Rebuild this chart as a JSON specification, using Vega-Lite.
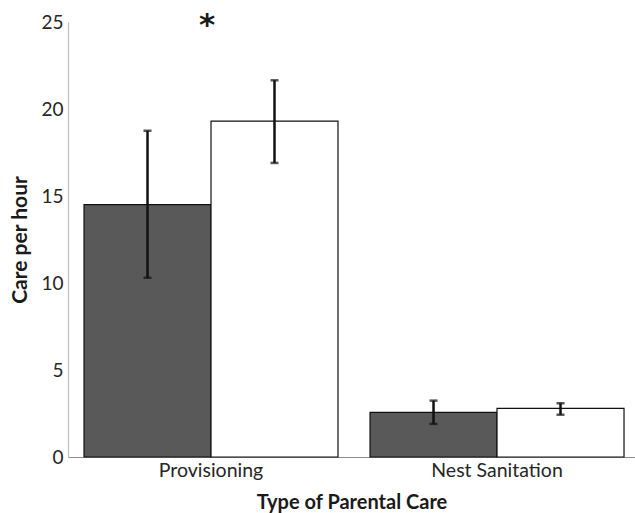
{
  "$schema": "https://vega.github.io/schema/vega-lite/v6.json",
  "width": 567,
  "height": 435,
  "autosize": {"type": "none"},
  "padding": {"left": 68, "top": 22, "right": 0, "bottom": 56},
  "background": "white",
  "config": {
    "view": {"stroke": null},
    "font": "Lato",
    "axis": {"labelFont": "Lato", "titleFont": "Lato", "labelColor": "#262626", "titleColor": "#1a1a1a", "grid": false, "ticks": false}
  },
  "datasets": {
    "bars": [
      {"type": "Provisioning", "group": "Group 1", "mean": 14.5, "lo": 10.3, "hi": 18.75},
      {"type": "Provisioning", "group": "Group 2", "mean": 19.3, "lo": 16.9, "hi": 21.65},
      {"type": "Nest Sanitation", "group": "Group 1", "mean": 2.57, "lo": 1.9, "hi": 3.24},
      {"type": "Nest Sanitation", "group": "Group 2", "mean": 2.8, "lo": 2.43, "hi": 3.09}
    ],
    "notes": [
      {"type": "Provisioning", "label": "*", "pos": 25}
    ]
  },
  "layer": [
    {
      "data": {"name": "bars"},
      "mark": {"type": "bar", "stroke": "#111111", "strokeWidth": 1.2},
      "encoding": {
        "x": {"field": "type", "type": "nominal", "sort": ["Provisioning", "Nest Sanitation"],
          "scale": {"paddingInner": 0.112, "paddingOuter": 0.0472, "align": 0.593},
          "axis": {"title": "Type of Parental Care", "labelAngle": 0, "labelFontSize": 19.5, "labelPadding": 4, "titleFontSize": 20, "titleFontWeight": "bold", "titlePadding": 13, "domainColor": "#8c8c8c", "domainWidth": 1.2}},
        "xOffset": {"field": "group", "type": "nominal", "scale": {"paddingInner": 0, "paddingOuter": 0}},
        "y": {"field": "mean", "type": "quantitative", "scale": {"domain": [0, 25], "nice": false},
          "axis": {"title": "Care per hour", "values": [0, 5, 10, 15, 20, 25], "labelFontSize": 19, "labelPadding": 5, "titleFontSize": 21, "titleFontWeight": "bold", "titlePadding": 10, "domainColor": "#bfbfbf", "domainWidth": 1.2}},
        "fill": {"field": "group", "type": "nominal", "scale": {"range": ["#595959", "#ffffff"]}, "legend": null}
      }
    },
    {
      "data": {"name": "bars"},
      "mark": {"type": "rule", "color": "#111111", "strokeWidth": 2.5},
      "encoding": {
        "x": {"field": "type", "type": "nominal", "sort": ["Provisioning", "Nest Sanitation"], "bandPosition": 0.5},
        "xOffset": {"field": "group", "type": "nominal"},
        "y": {"field": "lo", "type": "quantitative"},
        "y2": {"field": "hi"}
      }
    },
    {
      "data": {"name": "bars"},
      "mark": {"type": "tick", "color": "#111111", "size": 8, "thickness": 2.5, "orient": "horizontal"},
      "encoding": {
        "x": {"field": "type", "type": "nominal", "sort": ["Provisioning", "Nest Sanitation"]},
        "xOffset": {"field": "group", "type": "nominal"},
        "y": {"field": "lo", "type": "quantitative"}
      }
    },
    {
      "data": {"name": "bars"},
      "mark": {"type": "tick", "color": "#111111", "size": 8, "thickness": 2.5, "orient": "horizontal"},
      "encoding": {
        "x": {"field": "type", "type": "nominal", "sort": ["Provisioning", "Nest Sanitation"]},
        "xOffset": {"field": "group", "type": "nominal"},
        "y": {"field": "hi", "type": "quantitative"}
      }
    },
    {
      "data": {"name": "notes"},
      "mark": {"type": "text", "font": "DejaVu Sans", "fontSize": 31, "fontWeight": "bold", "color": "#1a1a1a", "baseline": "alphabetic", "dy": 13, "dx": -4, "clip": false},
      "encoding": {
        "x": {"field": "type", "type": "nominal", "sort": ["Provisioning", "Nest Sanitation"]},
        "y": {"field": "pos", "type": "quantitative"},
        "text": {"field": "label"}
      }
    }
  ]
}
